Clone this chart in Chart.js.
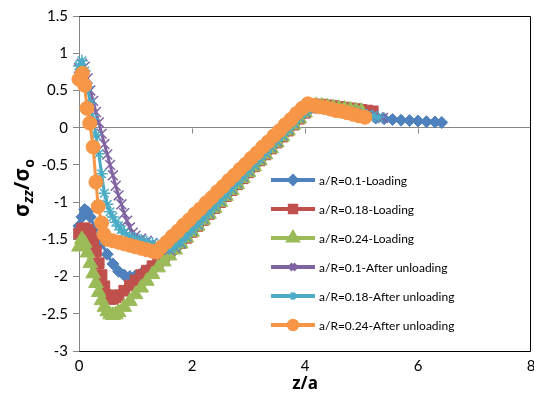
<!DOCTYPE html>
<html>
<head>
<meta charset="utf-8">
<script src="https://cdn.jsdelivr.net/npm/chart.js"></script>
<style>
  body { margin: 0; background: #fff; }
  canvas { display: block; }
</style>
</head>
<body>
<canvas id="graph" width="534" height="402"></canvas>
<script>
"use strict"

// a/R=0.1-Loading
let z01L = [0, 0.05, 0.1, 0.15, 0.2, 0.3, 0.4, 0.5, 0.6, 0.7, 0.8, 0.9, 1.0, 1.1, 1.2, 1.3, 1.4, 1.5, 1.6, 1.7, 1.8,
    1.9, 2.0, 2.1, 2.2, 2.3, 2.4, 2.5, 2.6, 2.7, 2.8, 2.9, 3.0, 3.1, 3.2, 3.3, 3.4, 3.5, 3.6, 3.7, 3.8, 3.9, 4.0, 4.1, 4.2,
    4.35, 4.5, 4.65, 4.8, 4.95, 5.1, 5.25, 5.4, 5.55, 5.7, 5.85, 6.0, 6.15, 6.3, 6.42]
let s01L = [-1.32, -1.2, -1.1, -1.13, -1.2, -1.38, -1.55, -1.7, -1.83, -1.93, -1.98, -2.0, -1.99, -1.96, -1.92, -1.87, -1.82, -1.77, -1.71, -1.64, -1.56,
    -1.48, -1.4, -1.32, -1.24, -1.16, -1.08, -1.0, -0.92, -0.84, -0.76, -0.68, -0.6, -0.52, -0.44, -0.36, -0.28, -0.2, -0.12, -0.04, 0.04, 0.12, 0.2, 0.26, 0.28,
    0.26, 0.24, 0.21, 0.19, 0.17, 0.15, 0.13, 0.12, 0.11, 0.1, 0.095, 0.09, 0.08, 0.075, 0.07]

// a/R=0.18-Loading
let z018L = [0, 0.05, 0.1, 0.15, 0.2, 0.25, 0.3, 0.35, 0.4, 0.45, 0.5, 0.55, 0.6, 0.65, 0.7, 0.8, 0.9, 1.0, 1.1, 1.2, 1.3, 1.4, 1.5, 1.6, 1.7, 1.8,
    1.9, 2.0, 2.1, 2.2, 2.3, 2.4, 2.5, 2.6, 2.7, 2.8, 2.9, 3.0, 3.1, 3.2, 3.3, 3.4, 3.5, 3.6, 3.7, 3.8, 3.9, 4.0, 4.1, 4.2,
    4.3, 4.4, 4.5, 4.6, 4.7, 4.8, 4.9, 5.0, 5.1, 5.2]
let s018L = [-1.42, -1.36, -1.35, -1.37, -1.42, -1.52, -1.66, -1.82, -1.98, -2.13, -2.25, -2.3, -2.3, -2.28, -2.25, -2.19, -2.12, -2.05, -1.98, -1.92, -1.86, -1.8, -1.74, -1.68, -1.61, -1.55,
    -1.48, -1.4, -1.32, -1.24, -1.16, -1.08, -1.0, -0.92, -0.84, -0.76, -0.68, -0.6, -0.52, -0.44, -0.36, -0.28, -0.2, -0.12, -0.04, 0.04, 0.12, 0.2, 0.27, 0.31,
    0.31, 0.3, 0.29, 0.28, 0.27, 0.26, 0.25, 0.24, 0.23, 0.22]

// a/R=0.24-Loading
let z024L = [0, 0.05, 0.1, 0.15, 0.2, 0.25, 0.3, 0.35, 0.4, 0.45, 0.5, 0.55, 0.6, 0.65, 0.7, 0.8, 0.9, 1.0, 1.1, 1.2, 1.3, 1.4, 1.5, 1.6, 1.7, 1.8,
    1.9, 2.0, 2.1, 2.2, 2.3, 2.4, 2.5, 2.6, 2.7, 2.8, 2.9, 3.0, 3.1, 3.2, 3.3, 3.4, 3.5, 3.6, 3.7, 3.8, 3.9, 4.0, 4.1, 4.2,
    4.3, 4.4, 4.5, 4.6, 4.7, 4.8, 4.9, 5.0]
let s024L = [-1.6, -1.5, -1.55, -1.68, -1.82, -1.96, -2.09, -2.21, -2.32, -2.41, -2.47, -2.51, -2.52, -2.51, -2.48, -2.41, -2.33, -2.24, -2.15, -2.06, -1.97, -1.88, -1.8, -1.72, -1.64, -1.56,
    -1.48, -1.4, -1.32, -1.24, -1.16, -1.08, -1.0, -0.92, -0.84, -0.76, -0.68, -0.6, -0.52, -0.44, -0.36, -0.28, -0.2, -0.12, -0.04, 0.04, 0.12, 0.2, 0.27, 0.3,
    0.29, 0.28, 0.27, 0.26, 0.25, 0.24, 0.23, 0.22]

// a/R=0.1-After unloading
let z01U = [0, 0.05, 0.1, 0.15, 0.2, 0.25, 0.3, 0.35, 0.4, 0.45, 0.5, 0.55, 0.6, 0.65, 0.7, 0.75, 0.8, 0.85, 0.9, 0.95, 1.0, 1.1, 1.2, 1.3, 1.4, 1.5, 1.6, 1.7, 1.8,
    1.9, 2.0, 2.1, 2.2, 2.3, 2.4, 2.5, 2.6, 2.7, 2.8, 2.9, 3.0, 3.1, 3.2, 3.3, 3.4, 3.5, 3.6, 3.7, 3.8, 3.9, 4.0, 4.1, 4.2,
    4.3, 4.4, 4.5, 4.6, 4.7, 4.8, 4.9, 5.0, 5.1, 5.2, 5.3, 5.38]
let s01U = [0.8, 0.86, 0.82, 0.66, 0.5, 0.36, 0.21, 0.07, -0.08, -0.22, -0.36, -0.5, -0.64, -0.78, -0.91, -1.03, -1.15, -1.25, -1.34, -1.41, -1.45, -1.49, -1.52, -1.55, -1.58, -1.62, -1.64, -1.61, -1.55,
    -1.46, -1.38, -1.3, -1.22, -1.14, -1.06, -0.98, -0.9, -0.82, -0.74, -0.66, -0.58, -0.5, -0.42, -0.34, -0.26, -0.18, -0.1, -0.02, 0.06, 0.14, 0.21, 0.26, 0.27,
    0.26, 0.25, 0.24, 0.23, 0.22, 0.21, 0.2, 0.18, 0.17, 0.16, 0.14, 0.13]

// a/R=0.18-After unloading
let z018U = [0, 0.05, 0.1, 0.15, 0.2, 0.25, 0.3, 0.35, 0.4, 0.45, 0.5, 0.55, 0.6, 0.65, 0.7, 0.75, 0.8, 0.9, 1.0, 1.1, 1.2, 1.3, 1.4, 1.5, 1.6, 1.7, 1.8,
    1.9, 2.0, 2.1, 2.2, 2.3, 2.4, 2.5, 2.6, 2.7, 2.8, 2.9, 3.0, 3.1, 3.2, 3.3, 3.4, 3.5, 3.6, 3.7, 3.8, 3.9, 4.0, 4.1, 4.2,
    4.3, 4.4, 4.5, 4.6, 4.7, 4.8, 4.9, 5.0, 5.1, 5.2, 5.3]
let s018U = [0.83, 0.9, 0.76, 0.55, 0.33, 0.12, -0.1, -0.35, -0.62, -0.88, -1.03, -1.13, -1.2, -1.27, -1.32, -1.37, -1.41, -1.46, -1.49, -1.51, -1.53, -1.55, -1.58, -1.61, -1.63, -1.6, -1.54,
    -1.46, -1.38, -1.3, -1.22, -1.14, -1.06, -0.98, -0.9, -0.82, -0.74, -0.66, -0.58, -0.5, -0.42, -0.34, -0.26, -0.18, -0.1, -0.02, 0.06, 0.14, 0.21, 0.26, 0.27,
    0.26, 0.25, 0.24, 0.23, 0.22, 0.21, 0.2, 0.18, 0.17, 0.16, 0.14]

// a/R=0.24-After unloading
let z024U = [0, 0.06, 0.1, 0.14, 0.19, 0.25, 0.3, 0.34, 0.4, 0.44, 0.5, 0.6, 0.7, 0.8, 0.9, 1.0, 1.1, 1.2, 1.3, 1.37,
    1.45, 1.55, 1.65, 1.75, 1.85, 1.95, 2.05, 2.15, 2.25, 2.35, 2.45, 2.55, 2.65, 2.75, 2.85, 2.95, 3.05, 3.15, 3.25, 3.35,
    3.45, 3.55, 3.65, 3.75, 3.85, 3.95, 4.05, 4.15, 4.25, 4.35, 4.45, 4.55, 4.65, 4.75, 4.85, 4.95, 5.06]
let s024U = [0.65, 0.73, 0.57, 0.26, 0.06, -0.26, -0.73, -1.06, -1.28, -1.43, -1.5, -1.52, -1.54, -1.56, -1.58, -1.6, -1.62, -1.64, -1.66, -1.67,
    -1.61, -1.54, -1.46, -1.39, -1.31, -1.24, -1.16, -1.09, -1.01, -0.94, -0.86, -0.79, -0.71, -0.64, -0.56, -0.49, -0.41, -0.34, -0.26, -0.19,
    -0.11, -0.04, 0.04, 0.11, 0.19, 0.26, 0.32, 0.3, 0.28, 0.27, 0.25, 0.23, 0.22, 0.2, 0.18, 0.16, 0.14]

let noms = ["a/R=0.1-Loading", "a/R=0.18-Loading", "a/R=0.24-Loading",
    "a/R=0.1-After unloading", "a/R=0.18-After unloading", "a/R=0.24-After unloading"]
let couleurs = ['#4F81BD', '#C0504D', '#9BBB59', '#8064A2', '#4BACC6', '#F79646']
let zTicks = [2, 4, 6]

let points = (zs, ss) => zs.map((z, i) => ({ x: z, y: ss[i] }))

let serie = (i, zs, ss, style, rayon, bord) => ({
    label: noms[i],
    data: points(zs, ss),
    borderColor: couleurs[i],
    backgroundColor: couleurs[i],
    pointBackgroundColor: couleurs[i],
    pointBorderColor: couleurs[i],
    pointStyle: style,
    pointRadius: rayon,
    pointBorderWidth: bord,
    borderWidth: 3,
    tension: 0,
    showLine: true,
    clip: false,
    order: 5 - i
})

// cadre, graduations sur l'axe z, titre vertical et légende
let habillage = {
    id: "habillage",
    afterLayout(chart) {
        // bord droit du tracé à 531 px comme l'original
        let a = chart.chartArea
        let sx = chart.scales.x
        a.right = 531
        a.width = a.right - a.left
        sx.right = 531
        sx.width = sx.right - sx.left
        sx.configure()
    },
    beforeDatasetsDraw(chart) {
        let ctx = chart.ctx
        let a = chart.chartArea
        let sx = chart.scales.x
        let y0 = Math.round(chart.scales.y.getPixelForValue(0)) + 0.5
        ctx.save()
        ctx.strokeStyle = "#868686"
        ctx.lineWidth = 1
        zTicks.forEach(t => {
            let px = Math.round(sx.getPixelForValue(t)) + 0.5
            ctx.beginPath()
            ctx.moveTo(px, y0)
            ctx.lineTo(px, y0 + 5)
            ctx.stroke()
        })
        ctx.strokeStyle = "#000"
        ctx.beginPath()
        ctx.moveTo(Math.round(a.left) + 0.5, Math.round(a.top) + 0.5)
        ctx.lineTo(Math.round(a.right) - 0.5, Math.round(a.top) + 0.5)
        ctx.lineTo(Math.round(a.right) - 0.5, Math.round(a.bottom) + 0.5)
        ctx.lineTo(Math.round(a.left) + 0.5, Math.round(a.bottom) + 0.5)
        ctx.stroke()
        ctx.restore()
    },
    afterDraw(chart) {
        let ctx = chart.ctx
        ctx.save()
        // titre de l'axe vertical : σzz/σo
        ctx.translate(23, 188)
        ctx.rotate(-Math.PI / 2)
        let morceaux = [
            { t: "σ", f: "bold 21px 'Noto Sans'", dy: 0 },
            { t: "zz", f: "italic bold 14px 'Noto Sans'", dy: 4 },
            { t: "/σ", f: "bold 21px 'Noto Sans'", dy: 0 },
            { t: "o", f: "bold 14px 'Noto Sans'", dy: 5 }
        ]
        let largeur = 0
        morceaux.forEach(m => { ctx.font = m.f; m.w = ctx.measureText(m.t).width; largeur += m.w })
        let x = -largeur / 2
        ctx.fillStyle = "#000"
        ctx.textBaseline = "alphabetic"
        morceaux.forEach(m => { ctx.font = m.f; ctx.fillText(m.t, x, 6 + m.dy); x += m.w })
        ctx.restore()

        // légende
        ctx.save()
        chart.data.datasets.forEach((d, i) => {
            let y = 180 + 29 * i
            ctx.strokeStyle = d.borderColor
            ctx.lineWidth = 4
            ctx.beginPath()
            ctx.moveTo(271, y)
            ctx.lineTo(315, y)
            ctx.stroke()
            ctx.fillStyle = d.borderColor
            Chart.helpers.drawPoint(ctx, {
                pointStyle: d.pointStyle,
                radius: d.pointRadius * 0.6,
                borderWidth: d.pointBorderWidth,
                rotation: 0
            }, 293, y)
            ctx.fillStyle = "#000"
            ctx.font = "12px Lato"
            ctx.textBaseline = "middle"
            ctx.fillText(d.label, 319, y + 1)
        })
        ctx.restore()
    }
}

let graph = new Chart(document.querySelector("#graph"), {
    type: "scatter",
    data: {
        datasets: [
            serie(0, z01L, s01L, "rectRot", 6, 1),
            serie(1, z018L, s018L, "rect", 7.5, 1),
            serie(2, z024L, s024L, "triangle", 8.5, 1),
            serie(3, z01U, s01U, "crossRot", 7, 1.5),
            serie(4, z018U, s018U, "star", 6, 1.5),
            serie(5, z024U, s024U, "circle", 7, 1)
        ]
    },
    options: {
        responsive: false,
        animation: false,
        devicePixelRatio: 1,
        layout: { padding: { top: 16, right: 3, left: 0, bottom: 0 } },
        plugins: { legend: { display: false }, tooltip: { enabled: false } },
        scales: {
            x: {
                type: "linear",
                min: 0,
                max: 8,
                ticks: { stepSize: 2, padding: 6, color: "#000", font: { family: "Lato", size: 15 } },
                grid: { display: false, drawTicks: false },
                border: { display: false },
                title: { display: true, text: "z/a", color: "#000", font: { family: "'Noto Sans'", size: 17, weight: "bold" }, padding: { top: 0, bottom: 8 } },
                afterFit(s) { s.height = 51; s.paddingLeft = 0; s.paddingRight = 0 }
            },
            y: {
                min: -3,
                max: 1.5,
                ticks: { stepSize: 0.5, padding: 5, color: "#000", font: { family: "Lato", size: 15 }, callback: v => String(v) },
                grid: {
                    color: c => (c.tick && c.tick.value === 0) ? "#868686" : "rgba(0,0,0,0)",
                    tickColor: "#868686",
                    tickLength: 6
                },
                border: { display: true, color: "#868686" },
                afterFit(s) { s.width = 79 }
            }
        }
    },
    plugins: [habillage]
})
</script>
</body>
</html>
